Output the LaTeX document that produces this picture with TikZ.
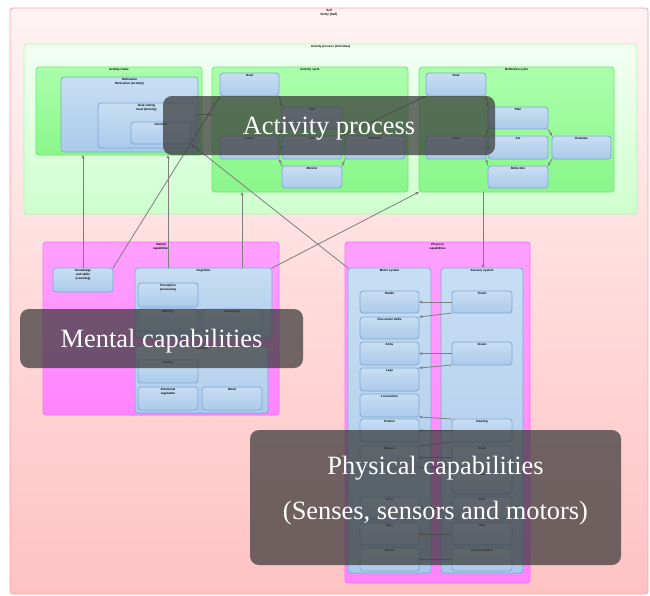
\documentclass[tikz,border=0pt]{standalone}
\usepackage{fontspec}
\setmainfont{Liberation Serif}
\newfontfamily\lblf{Liberation Sans}
\usetikzlibrary{arrows.meta}
\definecolor{pinkA}{HTML}{FFF3F3}
\definecolor{pinkB}{HTML}{FFC2C2}
\definecolor{pinkL}{HTML}{FFA0A0}
\definecolor{lgA}{HTML}{F3FFF3}
\definecolor{lgB}{HTML}{CEFFCE}
\definecolor{lgL}{HTML}{B4F2B4}
\definecolor{gA}{HTML}{ABFFAB}
\definecolor{gB}{HTML}{8AF68A}
\definecolor{gL}{HTML}{70E870}
\definecolor{bA}{HTML}{C8DEF3}
\definecolor{bB}{HTML}{ABCAEA}
\definecolor{bL}{HTML}{80A8D8}
\definecolor{mA}{HTML}{FFA0FF}
\definecolor{mB}{HTML}{FF84FF}
\definecolor{mL}{HTML}{FF6CFF}
\definecolor{arrc}{HTML}{7E7E7E}
\definecolor{ovc}{HTML}{383838}
\newcommand\bx[7]{%
  \node[#6, anchor=north west, minimum width={(#4-#2)*1pt}, minimum height={(#5-#3)*1pt}] (#1) at (#2,#3) {};
  \node[lbl, anchor=north] at ([yshift=-1.4pt]#1.north) {#7};}
\begin{document}
\begin{tikzpicture}[x=1pt,y=-1pt,
  base/.style={rounded corners=3pt, line width=0.8pt, inner sep=0pt, outer sep=0pt},
  pinkbox/.style={base, draw=pinkL, top color=pinkA, bottom color=pinkB},
  lgbox/.style={base, draw=lgL, top color=lgA, bottom color=lgB},
  gbox/.style={base, draw=gL, top color=gA, bottom color=gB},
  bbox/.style={base, draw=bL, top color=bA, bottom color=bB},
  mbox/.style={base, draw=mL, top color=mA, bottom color=mB},
  lbl/.style={inner sep=0pt, align=center, font=\lblf\bfseries\fontsize{3}{3.7}\selectfont},
  arr/.style={draw=arrc, line width=0.8pt, -{Stealth[length=3.5pt,width=3pt]}},
  ovbox/.style={rounded corners=9pt, fill=ovc, fill opacity=0.72, draw=none, inner sep=0pt, outer sep=0pt},
  ovtext/.style={text=white, align=center, inner sep=0pt, font=\fontsize{26.4}{45}\selectfont}
]
\useasboundingbox (0,0) rectangle (650,595);
\fill[white] (0,0) rectangle (650,595);
% outer containers
\bx{self}{10}{8}{648}{594}{pinkbox}{Self\\Entity (Self)}
\bx{act}{24}{44}{637}{214}{lgbox}{Activity process (Activities)}
\bx{g1}{36}{67}{202}{155}{gbox}{Activity frame}
\bx{g2}{212}{67}{408}{192}{gbox}{Activity cycle}
\bx{g3}{419}{67}{614}{192}{gbox}{Reflection cycle}
% g1 contents
\bx{A}{61}{77}{198}{152}{bbox}{Motivation\\Motivation (Activity)}
\bx{B}{98}{103}{195}{148}{bbox}{Goal setting\\Goal (Activity)}
\bx{C}{131}{122}{191}{144}{bbox}{Intention}
% g2 contents
\bx{m1}{220}{73}{279}{96}{bbox}{Goal}
\bx{m2}{282}{107}{342}{129}{bbox}{Plan}
\bx{m3}{220}{136}{279}{159}{bbox}{Learn}
\bx{m4}{282}{136}{342}{159}{bbox}{Act}
\bx{m5}{345}{136}{405}{159}{bbox}{Evaluate}
\bx{m6}{282}{166}{342}{188}{bbox}{Monitor}
% g3 contents
\bx{r1}{426}{73}{486}{96}{bbox}{Goal}
\bx{r2}{488}{107}{548}{129}{bbox}{Plan}
\bx{r3}{426}{136}{486}{159}{bbox}{Learn}
\bx{r4}{488}{136}{548}{159}{bbox}{Act}
\bx{r5}{552}{136}{611}{159}{bbox}{Evaluate}
\bx{r6}{488}{166}{548}{188}{bbox}{Reflection}
% mental
\bx{mental}{43}{242}{279}{415}{mbox}{Mental\\capabilities}
\bx{s1}{53}{268}{113}{292}{bbox}{Knowledge\\and skills\\(Learning)}
\bx{b1}{135}{268}{272}{338}{bbox}{Cognition}
\bx{b1a}{138}{283}{198}{307}{bbox}{Perception\\processing}
\bx{b1b}{138}{309}{198}{332}{bbox}{Memory}
\bx{b1c}{202}{309}{262}{332}{bbox}{Reasoning}
\bx{b2}{135}{346}{268}{413}{bbox}{Emotion}
\bx{b2a}{138}{360}{198}{383}{bbox}{Feeling}
\bx{b2b}{138}{387}{198}{410}{bbox}{Emotional\\regulation}
\bx{b2c}{202}{387}{262}{410}{bbox}{Mood}
% physical
\bx{phys}{345}{242}{530}{583}{mbox}{Physical\\capabilities}
\bx{lc}{348}{268}{431}{573}{bbox}{Motor system}
\bx{rc}{441}{268}{523}{573}{bbox}{Sensory system}
\bx{L1}{360}{291}{419}{313}{bbox}{Hands}
\bx{L2}{360}{317}{419}{339}{bbox}{Fine motor skills}
\bx{L3}{360}{342}{419}{365}{bbox}{Arms}
\bx{L4}{360}{368}{419}{391}{bbox}{Legs}
\bx{L5}{360}{394}{419}{417}{bbox}{Locomotion}
\bx{L6}{360}{419}{419}{442}{bbox}{Posture}
\bx{L7}{360}{446}{419}{469}{bbox}{Balance}
\bx{L8}{360}{497}{419}{519}{bbox}{Voice}
\bx{L9}{360}{523}{419}{545}{bbox}{Eyes}
\bx{L10}{360}{548}{419}{571}{bbox}{Mouth}
\bx{R1}{452}{291}{512}{313}{bbox}{Touch}
\bx{R2}{452}{342}{512}{365}{bbox}{Vision}
\bx{R3}{452}{419}{512}{442}{bbox}{Hearing}
\bx{R4}{452}{446}{512}{469}{bbox}{Smell}
\bx{R5}{452}{472}{512}{494}{bbox}{Taste}
\bx{R6}{452}{497}{512}{519}{bbox}{Pain}
\bx{R7}{452}{523}{512}{545}{bbox}{Heat}
\bx{R8}{452}{548}{512}{571}{bbox}{Proprioception}
% cycle g2
\draw[arr] (m1.south east) -- (m2.north west);
\draw[arr] (m2.south east) -- (m5.north west);
\draw[arr] (m5.south west) -- (m6.north east);
\draw[arr] (m6.north west) -- (m3.south east);
\draw[arr] (m3.north east) -- (m2.south west);
\draw[arr] (m4.west) -- (m3.east);
% cycle g3
\draw[arr] (r1.south east) -- (r2.north west);
\draw[arr] (r2.south east) -- (r5.north west);
\draw[arr] (r5.south west) -- (r6.north east);
\draw[arr] (r6.north west) -- (r3.south east);
\draw[arr] (r3.north east) -- (r2.south west);
\draw[arr] (r4.west) -- (r3.east);
% links between groups
\draw[arr] (A.east) -- (A.east -| g2.west);
\draw[arr] (m4.north east) -- (r1.south west);
\draw[arr] (s1.north) -- (s1.north |- g1.south);
\draw[arr] (s1.north east) -- (m1.south west);
\draw[arr] ([xshift=33pt]b1.north west) coordinate (t1) -- (t1 |- g1.south);
\draw[arr] ([xshift=107pt]b1.north west) coordinate (t2) -- (t2 |- g2.south);
\draw[arr] (b1.north east) -- (g3.south west);
\draw[arr] (lc.north west) -- (C.south east);
\draw[arr] ([xshift=64pt]g3.south west) coordinate (t3) -- (t3 |- rc.north);
% sensors to motors
\draw[arr] (R1.west) -- (R1.west -| L1.east);
\draw[arr] (R1.south west) -- (L2.north east);
\draw[arr] (R2.west) -- (R2.west -| L3.east);
\draw[arr] (R2.south west) -- (L4.north east);
\draw[arr] (R3.north west) -- (L5.south east);
\draw[arr] (R3.west) -- (R3.west -| L6.east);
\draw[arr] (R3.south west) -- (L7.north east);
\draw[arr] (R4.west) -- (R4.west -| L7.east);
\draw[arr] ([yshift=1.5pt]R4.south west) -- ([yshift=1.5pt]L7.south east);
\draw[arr] (R6.west) -- (R6.west -| L8.east);
\draw[arr] (R7.west) -- (R7.west -| L9.east);
\draw[arr] (R8.west) -- (R8.west -| L10.east);
% overlays
\node[ovbox, anchor=north west, minimum width=332pt, minimum height=59pt] (ov1) at (163,96) {};
\node[ovtext] at ([yshift=-3pt]ov1.center) {Activity process};
\node[ovbox, anchor=north west, minimum width=283pt, minimum height=59pt] (ov2) at (20,309) {};
\node[ovtext] at ([yshift=-3pt]ov2.center) {Mental capabilities};
\node[ovbox, anchor=north west, minimum width=371pt, minimum height=135pt] (ov3) at (250,430) {};
\node[ovtext] at ([yshift=7pt]ov3.center) {Physical capabilities\\(Senses, sensors and motors)};
\end{tikzpicture}
\end{document}
